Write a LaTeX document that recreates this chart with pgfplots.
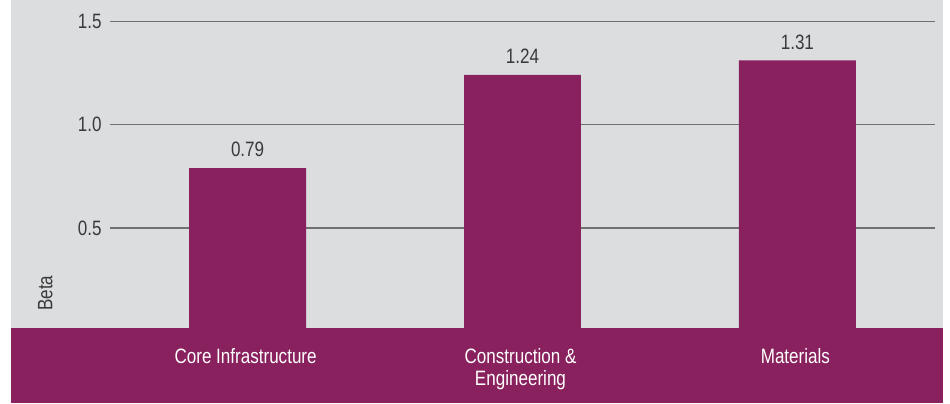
\documentclass[border=0pt]{standalone}
\usepackage{fontspec}
\setmainfont{Liberation Sans}[FakeStretch=0.82]
\usepackage{pgfplots}
\pgfplotsset{compat=1.18}
\definecolor{purp}{HTML}{88215E}
\definecolor{bgc}{HTML}{DCDDDF}
\definecolor{gridc}{HTML}{707070}
\definecolor{txt}{HTML}{3A3A3A}
\begin{document}
\begin{tikzpicture}
\begin{axis}[
  set layers,
  scale only axis,
  width=475pt, height=201.5pt,
  xmin=-0.9, xmax=2.5545,
  ymin=-0.3454, ymax=1.6014,
  axis line style={draw=none},
  major tick length=0pt,
  clip=false,
  /pgf/number format/assume math mode=true,
  ytick={0.5,1,1.5},
  yticklabels={0.5,1.0,1.5},
  yticklabel style={font=\fontsize{10.4}{12}\selectfont, text=txt, anchor=east, xshift=54.2pt},
  xtick={0,1,2},
  xticklabels={Core Infrastructure, {Construction \&\\Engineering}, Materials},
  xticklabel style={font=\fontsize{10.4}{11}\selectfont, text=white, anchor=north, align=center, yshift=31pt, xshift=-1pt},
]
\begin{pgfonlayer}{axis background}
\fill[bgc] (axis cs:-0.86,1.6014) rectangle (axis cs:2.529,0.0169);
\fill[purp] (axis cs:-0.86,0.0169) rectangle (axis cs:2.529,-0.3454);
\end{pgfonlayer}
\addplot[gridc, line width=0.65pt] coordinates {(-0.5,0.5)(2.5,0.5)};
\addplot[gridc, line width=0.65pt] coordinates {(-0.5,1.0)(2.5,1.0)};
\addplot[gridc, line width=0.65pt] coordinates {(-0.5,1.5)(2.5,1.5)};
\addplot[ybar, fill=purp, draw=none, bar width=0.4255,
  nodes near coords,
  nodes near coords style={font=\fontsize{10.4}{12}\selectfont, text=txt, yshift=2pt, /pgf/number format/fixed, /pgf/number format/fixed zerofill, /pgf/number format/precision=2}]
  coordinates {(0,0.79)(1,1.24)(2,1.31)};
\node[rotate=90, font=\fontsize{10.4}{12}\selectfont, text=txt] at (axis cs:-0.736,0.186) {Beta};
\end{axis}
\end{tikzpicture}
\end{document}
